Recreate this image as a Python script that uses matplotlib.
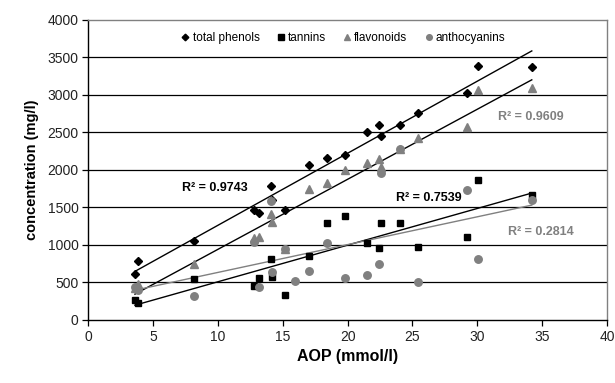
import numpy as np
import matplotlib
matplotlib.use("Agg")
import matplotlib.pyplot as plt

plt.rcParams['font.family'] = ['Liberation Sans', 'DejaVu Sans']

# AOP (mmol/l) et concentrations (mg/l)
aop_phenols = [3.6, 3.85, 8.15, 12.8, 13.15, 14.1, 14.2, 15.2, 17.05, 18.4, 19.8,
               21.5, 22.4, 22.57, 24.0, 25.4, 29.2, 30.05, 34.2]
total_phenols = [610, 790, 1050, 1460, 1420, 1785, 1600, 1460, 2070, 2164, 2205,
                 2511, 2600, 2458, 2600, 2756, 3022, 3391, 3375]

aop_tannins = [3.6, 3.85, 8.15, 12.75, 13.15, 14.1, 14.2, 15.2, 17.05, 18.4, 19.8,
               21.5, 22.4, 22.57, 24.0, 25.4, 29.2, 30.05, 34.2]
tannins = [267, 222, 547, 449, 560, 809, 578, 333, 853, 1297, 1391,
           1022, 955, 1289, 1289, 978, 1111, 1867, 1667]

aop_flavonoids = [3.6, 3.85, 8.15, 12.8, 13.15, 14.1, 14.2, 15.2, 17.05, 18.4, 19.8,
                  21.5, 22.4, 22.57, 24.0, 25.4, 29.2, 30.05, 34.2]
flavonoids = [420, 485, 747, 1095, 1102, 1410, 1311, 950, 1742, 1831, 2000,
              2098, 2142, 2044, 2276, 2422, 2578, 3067, 3089]

aop_anthocyanins = [3.6, 3.8, 8.15, 12.8, 13.15, 14.1, 14.15, 15.2, 15.97, 17.05, 18.4,
                    19.8, 21.5, 22.4, 22.57, 24.0, 25.4, 29.2, 30.05, 34.2]
anthocyanins = [436, 400, 324, 1040, 444, 1591, 644, 947, 522, 653, 1033,
                556, 600, 742, 1964, 2276, 511, 1733, 809, 1600]

r2_labels = ["R² = 0.9743", "R² = 0.7539", "R² = 0.9609", "R² = 0.2814"]

gris = '#808080'

fig = plt.figure(figsize=(6.15, 3.83), dpi=100)
ax = fig.add_axes([0.1435, 0.1645, 0.8435, 0.7833])

# lignes horizontales de la grille
for yv in range(500, 4000, 500):
    ax.axhline(yv, color='black', lw=0.9, zorder=1)

series = [
    (aop_phenols, total_phenols, 'D', 'black', 4.5, 'total phenols', 'black'),
    (aop_tannins, tannins, 's', 'black', 5.0, 'tannins', 'black'),
    (aop_flavonoids, flavonoids, '^', gris, 5.4, 'flavonoids', 'black'),
    (aop_anthocyanins, anthocyanins, 'o', gris, 5.4, 'anthocyanins', gris),
]

for x, y, m, c, ms, lab, lc in series:
    ax.plot(x, y, linestyle='none', marker=m, color=c, markersize=ms, label=lab, zorder=3)
    # droite de tendance
    a, b = np.polyfit(x, y, 1)
    xs = np.array([min(x), max(x)])
    ax.plot(xs, a * xs + b, color=lc, lw=1.0, zorder=2)

ax.text(7.2, 1760, r2_labels[0], fontsize=9, fontweight='bold', color='black', va='center')
ax.text(23.7, 1627, r2_labels[1], fontsize=9, fontweight='bold', color='black', va='center')
ax.text(31.6, 2707, r2_labels[2], fontsize=9, fontweight='bold', color=gris, va='center')
ax.text(32.4, 1173, r2_labels[3], fontsize=9, fontweight='bold', color=gris, va='center')

ax.set_xlim(0, 40)
ax.set_ylim(0, 4000)
ax.set_xticks(range(0, 45, 5))
ax.set_yticks(range(0, 4500, 500))
ax.tick_params(direction='out', length=4, width=0.9, labelsize=10, pad=3, colors='black')
for lbl in ax.get_xticklabels() + ax.get_yticklabels():
    lbl.set_color('#222222')

ax.spines['left'].set_color('black')
ax.spines['bottom'].set_color('black')
ax.spines['top'].set_color(gris)
ax.spines['right'].set_color(gris)
for s in ax.spines.values():
    s.set_linewidth(1.0)

ax.set_xlabel('AOP (mmol/l)', fontsize=11.5, fontweight='bold', labelpad=4)
ax.set_ylabel('concentration (mg/l)', fontsize=10.5, fontweight='bold', labelpad=6)

leg = ax.legend(loc='center', bbox_to_anchor=(0.49, 0.94), ncol=4, frameon=False,
                fontsize=8.5, handletextpad=0.1, columnspacing=1.3, markerscale=0.75,
                handlelength=1.0)

fig.savefig('out.png', dpi=100)
